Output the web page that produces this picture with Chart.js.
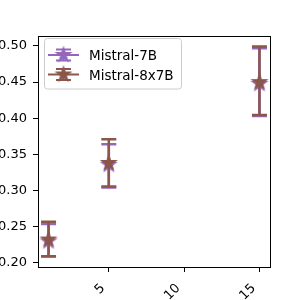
<!DOCTYPE html>
<html><head><meta charset="utf-8">
<script src="https://cdn.jsdelivr.net/npm/chart.js@4.4.0/dist/chart.umd.min.js"></script>
<style>html,body{margin:0;padding:0;background:#fff;} canvas{display:block;}</style>
</head><body>
<canvas id="c" width="300" height="300"></canvas>
<script>
const xValues = [1, 5, 15];
const seriesNames = ['Mistral-7B', 'Mistral-8x7B'];
const mistral7bMean = [0.2295, 0.3355, 0.4475];
const mistral7bLow = [0.2085, 0.304, 0.403];
const mistral7bHigh = [0.2537, 0.364, 0.497];
const mistral8x7bMean = [0.232, 0.338, 0.450];
const mistral8x7bLow = [0.209, 0.3055, 0.4043];
const mistral8x7bHigh = [0.2565, 0.3708, 0.4993];
const xTicks = [5, 10, 15];
const yTicks = [0.20, 0.25, 0.30, 0.35, 0.40, 0.45, 0.50];
const seriesColors = ['#9467bd', '#8c564b'];

const FONT = "'DejaVu Sans', sans-serif";

function starImage(color, R) {
  const size = 20;
  const c = document.createElement('canvas');
  c.width = size; c.height = size;
  const g = c.getContext('2d');
  g.beginPath();
  for (let k = 0; k < 10; k++) {
    const a = -Math.PI / 2 + k * Math.PI / 5;
    const r = (k % 2 === 0) ? R : R * 0.381966;
    const px = size / 2 + r * Math.cos(a), py = size / 2 + r * Math.sin(a);
    if (k === 0) g.moveTo(px, py); else g.lineTo(px, py);
  }
  g.closePath();
  g.fillStyle = color; g.fill();
  g.lineWidth = 1.4; g.strokeStyle = color; g.lineJoin = 'miter'; g.stroke();
  return c;
}
const stars = seriesColors.map(c => starImage(c, 7.2));

function mkData(means) { return xValues.map((x, i) => ({x: x, y: means[i]})); }

const errorBars = {
  id: 'errorBars',
  beforeDatasetDraw(chart, args) {
    const ds = chart.data.datasets[args.index];
    const xs = chart.scales.x, ys = chart.scales.y;
    const ctx = chart.ctx;
    ctx.save();
    ctx.strokeStyle = ds.borderColor;
    ctx.lineWidth = 2.5;
    ctx.lineCap = 'butt';
    xValues.forEach((xv, i) => {
      const px = xs.getPixelForValue(xv);
      const yl = ys.getPixelForValue(ds.errLow[i]);
      const yh = ys.getPixelForValue(ds.errHigh[i]);
      ctx.beginPath();
      ctx.moveTo(px, yl); ctx.lineTo(px, yh);
      ctx.moveTo(px - 7.5, yl); ctx.lineTo(px + 7.5, yl);
      ctx.moveTo(px - 7.5, yh); ctx.lineTo(px + 7.5, yh);
      ctx.stroke();
    });
    ctx.restore();
  }
};

const frameAndLegend = {
  id: 'frameAndLegend',
  afterDatasetsDraw(chart) {
    const a = chart.chartArea, ctx = chart.ctx;
    ctx.save();
    ctx.strokeStyle = '#000'; ctx.lineWidth = 1;
    ctx.strokeRect(a.left + 0.5, a.top + 0.5, a.right - a.left, a.bottom - a.top);
    ctx.restore();
  },
  afterDraw(chart) {
    const ctx = chart.ctx;
    ctx.save();
    const lx = 44.5, ly = 38.5, lw = 137, lh = 50.5, rr = 3;
    ctx.beginPath();
    ctx.moveTo(lx + rr, ly);
    ctx.lineTo(lx + lw - rr, ly); ctx.arcTo(lx + lw, ly, lx + lw, ly + rr, rr);
    ctx.lineTo(lx + lw, ly + lh - rr); ctx.arcTo(lx + lw, ly + lh, lx + lw - rr, ly + lh, rr);
    ctx.lineTo(lx + rr, ly + lh); ctx.arcTo(lx, ly + lh, lx, ly + lh - rr, rr);
    ctx.lineTo(lx, ly + rr); ctx.arcTo(lx, ly, lx + rr, ly, rr);
    ctx.closePath();
    ctx.fillStyle = 'rgba(255,255,255,0.8)'; ctx.fill();
    ctx.strokeStyle = '#cccccc'; ctx.lineWidth = 1; ctx.stroke();
    [0, 1].forEach((i, row) => {
      const ds = chart.data.datasets[i];
      const cy = 55 + row * 19.5, cx = 63.5;
      ctx.strokeStyle = ds.borderColor;
      ctx.lineWidth = 2;
      ctx.beginPath();
      ctx.moveTo(48, cy); ctx.lineTo(79, cy);
      ctx.moveTo(cx, cy - 5.6); ctx.lineTo(cx, cy + 5.6);
      ctx.moveTo(cx - 7.5, cy - 5.6); ctx.lineTo(cx + 7.5, cy - 5.6);
      ctx.moveTo(cx - 7.5, cy + 5.6); ctx.lineTo(cx + 7.5, cy + 5.6);
      ctx.stroke();
      ctx.drawImage(ds.pointStyle, cx - 10, cy - 10);
      ctx.fillStyle = '#000';
      ctx.font = '13.5px ' + FONT;
      ctx.textAlign = 'left'; ctx.textBaseline = 'alphabetic';
      ctx.fillText(ds.label, 89, cy + 5);
    });
    ctx.restore();
  }
};

new Chart(document.getElementById('c'), {
  type: 'scatter',
  data: {
    datasets: [
      { label: seriesNames[0], data: mkData(mistral7bMean), errLow: mistral7bLow, errHigh: mistral7bHigh,
        borderColor: seriesColors[0], backgroundColor: seriesColors[0], pointStyle: stars[0],
        pointRadius: 7, showLine: false, order: 1, clip: false },
      { label: seriesNames[1], data: mkData(mistral8x7bMean), errLow: mistral8x7bLow, errHigh: mistral8x7bHigh,
        borderColor: seriesColors[1], backgroundColor: seriesColors[1], pointStyle: stars[1],
        pointRadius: 7, showLine: false, order: 0, clip: false }
    ]
  },
  options: {
    responsive: false,
    animation: false,
    devicePixelRatio: 1,
    layout: { padding: { top: 36, right: 30, left: 0, bottom: 0 } },
    plugins: { legend: { display: false }, tooltip: { enabled: false } },
    scales: {
      x: {
        type: 'linear', min: 0.3, max: 15.7,
        afterBuildTicks: s => { s.ticks = xTicks.map(v => ({value: v})); },
        afterFit: s => { s.height = 33; },
        ticks: { autoSkip: false, minRotation: 45, maxRotation: 45, padding: 3, color: '#000',
                 font: { family: FONT, size: 13 }, callback: v => String(v) + '  ' },
        grid: { display: true, drawOnChartArea: false, drawTicks: true, tickLength: 5, color: '#000' },
        border: { display: false }
      },
      y: {
        type: 'linear', min: 0.194, max: 0.5138,
        afterBuildTicks: s => { s.ticks = yTicks.map(v => ({value: v})); },
        afterFit: s => { s.width = 38; },
        ticks: { padding: 6, color: '#000', font: { family: FONT, size: 13 }, callback: v => v.toFixed(2) },
        grid: { display: true, drawOnChartArea: false, drawTicks: true, tickLength: 5, color: '#000' },
        border: { display: false }
      }
    }
  },
  plugins: [errorBars, frameAndLegend]
});
</script>
</body></html>
